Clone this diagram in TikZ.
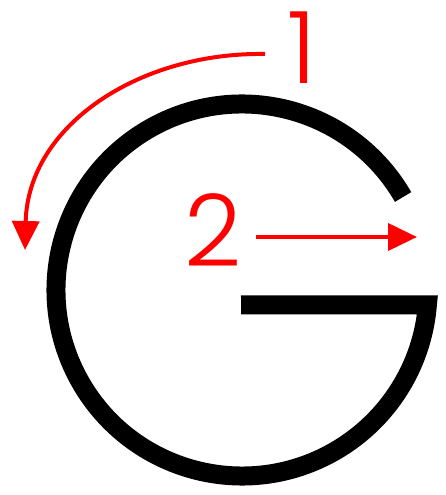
\documentclass[tikz,border=0pt]{standalone}
\usepackage{fontspec}
\setmainfont{Poppins Light}
\usetikzlibrary{arrows.meta}
\begin{document}
\begin{tikzpicture}[x=1pt,y=1pt,
  gstroke/.style={line width=19pt,line join=miter,line cap=butt,draw=black},
  redarrow/.style={draw=red,line width=4pt,-{Triangle[length=29pt,width=27pt]}},
  digit/.style={text=red,inner sep=0pt,font=\fontsize{100}{100}\selectfont}]
\useasboundingbox (0,0) rectangle (446,495);
% G
\coordinate (gc) at (242,205);
\draw[gstroke] (gc) ++(30:186) arc[start angle=30,end angle=355.4,radius=186] -- (241,190);
% labels
\node[digit] (one) at (302,447) {1};
\node[digit] (two) at (213,265) {2};
% arrows
\coordinate (a1s) at (265,441);
\coordinate (a1e) at (25,245);
\draw[redarrow] (a1s) .. controls (140,443) and (28,370) .. (a1e);
\coordinate (a2s) at (256,258);
\coordinate (a2e) at (417,258);
\draw[redarrow] (a2s) -- (a2e);
\end{tikzpicture}
\end{document}
